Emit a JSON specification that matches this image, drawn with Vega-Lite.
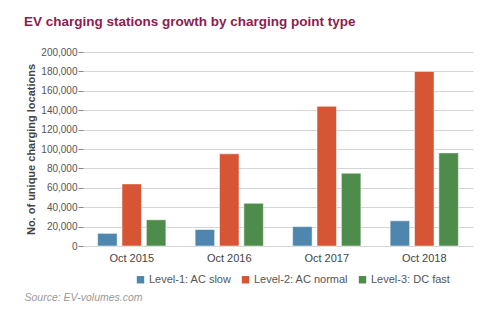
{
  "$schema": "https://vega.github.io/schema/vega-lite/v6.json",
  "width": 390,
  "height": 194,
  "autosize": {"type": "none"},
  "padding": {"left": 83, "top": 52, "right": 24, "bottom": 76},
  "background": "#ffffff",
  "title": {
    "text": "EV charging stations growth by charging point type",
    "anchor": "start",
    "frame": "group",
    "dx": -59,
    "offset": 19,
    "font": "Liberation Sans",
    "fontSize": 13.5,
    "fontWeight": "bold",
    "color": "#8c1d50"
  },
  "config": {
    "view": {"stroke": null},
    "font": "Liberation Sans"
  },
  "data": {
    "values": [
      {"period": "Oct 2015", "type": "Level-1: AC slow", "count": 13000},
      {"period": "Oct 2015", "type": "Level-2: AC normal", "count": 64000},
      {"period": "Oct 2015", "type": "Level-3: DC fast", "count": 27000},
      {"period": "Oct 2016", "type": "Level-1: AC slow", "count": 17000},
      {"period": "Oct 2016", "type": "Level-2: AC normal", "count": 95000},
      {"period": "Oct 2016", "type": "Level-3: DC fast", "count": 44000},
      {"period": "Oct 2017", "type": "Level-1: AC slow", "count": 20000},
      {"period": "Oct 2017", "type": "Level-2: AC normal", "count": 144000},
      {"period": "Oct 2017", "type": "Level-3: DC fast", "count": 75000},
      {"period": "Oct 2018", "type": "Level-1: AC slow", "count": 26000},
      {"period": "Oct 2018", "type": "Level-2: AC normal", "count": 180000},
      {"period": "Oct 2018", "type": "Level-3: DC fast", "count": 96000}
    ]
  },
  "mark": {"type": "bar", "stroke": "#ffffff", "strokeWidth": 1, "strokeOpacity": 0.5},
  "encoding": {
    "x": {
      "field": "period",
      "type": "nominal",
      "scale": {"paddingInner": 0.3, "paddingOuter": 0.15},
      "axis": {
        "labelAngle": 0,
        "labelFontSize": 11,
        "labelColor": "#444444",
        "labelPadding": 6,
        "ticks": false,
        "domain": false,
        "title": "Source: EV-volumes.com",
        "titleFontSize": 10.5,
        "titleFontWeight": "normal",
        "titleFontStyle": "italic",
        "titleColor": "#9a9a9a",
        "titleAnchor": "start",
        "titleAlign": "left",
        "titleBaseline": "middle",
        "titleX": -59,
        "titleY": 51
      }
    },
    "xOffset": {
      "field": "type",
      "type": "nominal",
      "scale": {"paddingInner": 0.2, "paddingOuter": 0}
    },
    "y": {
      "field": "count",
      "type": "quantitative",
      "scale": {"domain": [0, 200000], "nice": false},
      "axis": {
        "values": [0, 20000, 40000, 60000, 80000, 100000, 120000, 140000, 160000, 180000, 200000],
        "format": ",.0f",
        "labelFontSize": 10,
        "labelColor": "#555555",
        "labelPadding": 1,
        "tickColor": "#888888",
        "tickSize": 5,
        "domain": false,
        "gridColor": "#d4d4d4",
        "title": "No. of unique charging locations",
        "titleFontSize": 11,
        "titleFontWeight": "bold",
        "titleColor": "#444444",
        "titlePadding": 4
      }
    },
    "color": {
      "field": "type",
      "type": "nominal",
      "scale": {
        "domain": ["Level-1: AC slow", "Level-2: AC normal", "Level-3: DC fast"],
        "range": ["#4f86ad", "#d55534", "#4e8c4b"]
      },
      "legend": {
        "title": null,
        "orient": "none",
        "direction": "horizontal",
        "legendX": 52,
        "legendY": 222,
        "symbolType": "square",
        "symbolSize": 55,
        "symbolStrokeWidth": 0,
        "labelFontSize": 11,
        "labelColor": "#555555",
        "labelOffset": 3,
        "columnPadding": 8
      }
    }
  }
}
